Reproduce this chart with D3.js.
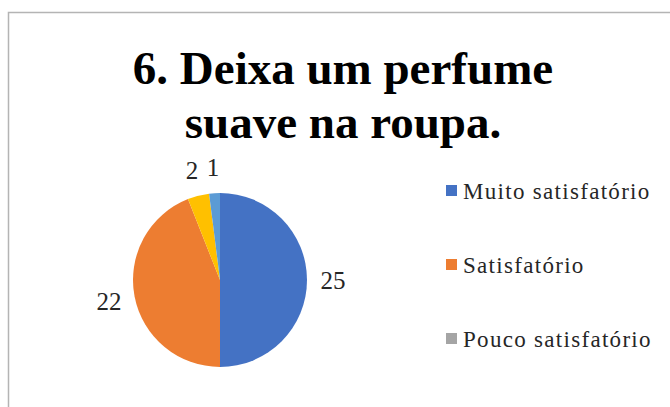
<!DOCTYPE html>
<html>
<head>
<meta charset="utf-8">
<script src="https://cdn.jsdelivr.net/npm/d3@7"></script>
<style>
  html, body { margin: 0; padding: 0; background: #ffffff; }
  svg { display: block; }
  svg text { font-family: "Liberation Serif", "Times New Roman", Tinos, Times, "DejaVu Serif", serif; }
</style>
</head>
<body>
<svg id="chart" width="670" height="407"></svg>
<script>
// Survey answers for question 6
const categories = ["Muito satisfatório", "Satisfatório", "Pouco satisfatório", "Insatisfatório", "Muito insatisfatório"];
const values = [25, 22, 0, 2, 1];
const colors = ["#4472C4", "#ED7D31", "#A5A5A5", "#FFC000", "#5B9BD5"];
const titleLines = ["6. Deixa um perfume", "suave na roupa."];
// legend entries shown in the chart area
const legendItems = categories.slice(0, 3);

const svg = d3.select("#chart");
const W = 670, H = 407;

// chart frame
svg.append("rect")
  .attr("x", 8.5).attr("y", 12.5)
  .attr("width", W + 10).attr("height", H + 10)
  .attr("fill", "#ffffff")
  .attr("stroke", "#b4b4b4").attr("stroke-width", 1.5);

// title
const title = svg.append("text")
  .style("font-weight", "bold")
  .style("font-size", "47px")
  .attr("fill", "#000")
  .attr("text-anchor", "middle");
title.selectAll("tspan").data(titleLines).join("tspan")
  .attr("x", 343)
  .attr("y", (d, i) => 84 + i * 54)
  .text(d => d);

// pie
const cx = 220, cy = 280, r = 87;
const data = categories.map((c, i) => ({ name: c, value: values[i], color: colors[i] }));
const pie = d3.pie().value(d => d.value).sort(null);
const arcs = pie(data);
const arc = d3.arc().innerRadius(0).outerRadius(r);
const labelArc = d3.arc().innerRadius(113).outerRadius(113);

const g = svg.append("g").attr("transform", `translate(${cx},${cy})`);
g.selectAll("path").data(arcs).join("path")
  .attr("d", arc)
  .attr("fill", d => d.data.color);

g.selectAll("text").data(arcs.filter(d => d.data.value > 0)).join("text")
  .attr("transform", d => `translate(${labelArc.centroid(d)})`)
  .attr("text-anchor", "middle")
  .attr("dy", "0.35em")
  .style("font-size", "25px")
  .attr("fill", "#262626")
  .text(d => d.data.value);

// legend
const legend = svg.append("g");
const row = legend.selectAll("g").data(legendItems).join("g")
  .attr("transform", (d, i) => `translate(446, ${191 + i * 74})`);
row.append("rect")
  .attr("x", 0).attr("y", -6)
  .attr("width", 11).attr("height", 11)
  .attr("fill", (d, i) => colors[i]);
row.append("text")
  .attr("x", 17)
  .attr("dy", "0.35em")
  .style("font-size", "23px")
  .style("letter-spacing", "1.3px")
  .attr("fill", "#262626")
  .text(d => d);
</script>
</body>
</html>
